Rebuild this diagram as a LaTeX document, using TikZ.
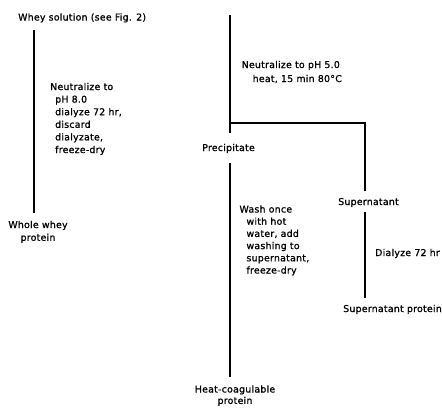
\documentclass[tikz,border=0pt]{standalone}
\usepackage{fontspec}
\setmainfont{DejaVu Sans}[LetterSpace=2.5,FakeBold=1]
\begin{document}
\begin{tikzpicture}[x=1pt,y=-1pt,
  flow/.style={line width=1.3pt, draw=black},
  lbl/.style={inner sep=0pt, anchor=base west, font=\fontsize{9.4}{12.4}\selectfont},
  ctr/.style={inner sep=0pt, anchor=base, font=\fontsize{9.4}{12.8}\selectfont}]
\useasboundingbox (0,0) rectangle (442,408);
\clip (0,0) rectangle (442,408);
% texts
\node[lbl] (whey) at (18,20.5) {Whey solution (see Fig. 2)};
\node[lbl, font=\fontsize{9.4}{12.6}\selectfont] (stepA) at (50,90) {\begin{tabular}[t]{@{}l@{}}Neutralize to\\\hspace*{5pt}pH 8.0\\\hspace*{5pt}dialyze 72 hr,\\\hspace*{5pt}discard\\\hspace*{5pt}dialyzate,\\\hspace*{5pt}freeze-dry\end{tabular}};
\node[ctr] (whole) at (38,228) {\begin{tabular}[t]{@{}c@{}}Whole whey\\protein\end{tabular}};
\node[lbl, font=\fontsize{9.4}{14}\selectfont] (stepB) at (241.5,68) {\begin{tabular}[t]{@{}l@{}}Neutralize to pH 5.0\\\hspace*{11pt}heat, 15 min 80°C\end{tabular}};
\node[ctr] (precip) at (228.5,151) {Precipitate};
\node[lbl, font=\fontsize{9.4}{12.2}\selectfont] (stepC) at (239.3,212.5) {\begin{tabular}[t]{@{}l@{}}Wash once\\\hspace*{7pt}with hot\\\hspace*{7pt}water, add\\\hspace*{7pt}washing to\\\hspace*{7pt}supernatant,\\\hspace*{7pt}freeze-dry\end{tabular}};
\node[ctr, font=\fontsize{9.4}{11.4}\selectfont] (heat) at (235,392.5) {\begin{tabular}[t]{@{}c@{}}Heat-coagulable\\protein\end{tabular}};
\node[ctr] (super) at (368.5,205) {Supernatant};
\node[lbl] (stepD) at (375,256) {Dialyze 72 hr};
\node[lbl] (supprot) at (343,312) {Supernatant protein};
% connector end points
\coordinate (L0) at (34,30);
\coordinate (L1) at (34,213);
\coordinate (M0) at (230,15);
\coordinate (M1) at (230,133);
\coordinate (J) at (230,123);
\coordinate (S) at (365,123);
\coordinate (S1) at (365,191);
\coordinate (S2) at (365,212);
\coordinate (S3) at (365,298);
\coordinate (M2) at (230,163);
\coordinate (M3) at (230,377);
% connectors
\draw[flow] (L0) -- (L1);
\draw[flow] (M0) -- (M1);
\draw[flow] (J) -- (S) -- (S1);
\draw[flow] (S2) -- (S3);
\draw[flow] (M2) -- (M3);
\end{tikzpicture}
\end{document}
